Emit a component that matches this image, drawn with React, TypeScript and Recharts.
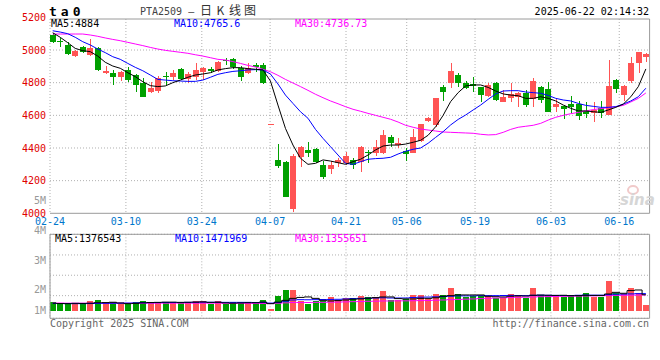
import { ComposedChart, Bar, Line, XAxis, YAxis, CartesianGrid, ReferenceLine } from 'recharts';

// daily candles, 02-24 .. 06-19 (80 sessions)
const opens = [5092, 5055, 5031, 4965, 5016, 4969, 5010, 4857, 4861, 4837,
  4878, 4847, 4796, 4741, 4749, 4843, 4837, 4884, 4820, 4837,
  4867, 4886, 4873, 4941, 4943, 4888, 4857, 4910, 4908, 4545,
  4327, 4314, 4027, 4347, 4388, 4392, 4296, 4269, 4306, 4310,
  4327, 4316, 4378, 4371, 4367, 4465, 4418, 4382, 4371, 4445,
  4567, 4541, 4776, 4796, 4847, 4800, 4790, 4771, 4718, 4796,
  4684, 4704, 4714, 4735, 4698, 4771, 4759, 4649, 4657, 4669,
  4669, 4627, 4612, 4647, 4602, 4816, 4724, 4812, 4918, 4955];
const highs = [5106, 5072, 5051, 5000, 5025, 5065, 5016, 4902, 4878, 4873,
  4898, 4853, 4827, 4806, 4841, 4863, 4878, 4888, 4867, 4918,
  4894, 4898, 4935, 4949, 4949, 4902, 4918, 4922, 4918, 4545,
  4422, 4318, 4363, 4412, 4439, 4402, 4322, 4322, 4337, 4373,
  4337, 4412, 4388, 4449, 4510, 4480, 4459, 4398, 4518, 4547,
  4590, 4708, 4786, 4922, 4857, 4812, 4837, 4776, 4796, 4802,
  4755, 4796, 4745, 4755, 4831, 4782, 4806, 4698, 4663, 4718,
  4690, 4684, 4684, 4688, 4939, 4822, 4786, 4959, 4986, 4980];
const lows = [5041, 5020, 4969, 4955, 4984, 4963, 4873, 4851, 4786, 4812,
  4806, 4745, 4710, 4735, 4739, 4786, 4816, 4816, 4800, 4816,
  4816, 4857, 4867, 4908, 4882, 4812, 4851, 4867, 4792, 4545,
  4276, 4098, 4010, 4282, 4347, 4306, 4212, 4239, 4286, 4296,
  4269, 4255, 4306, 4351, 4361, 4408, 4398, 4322, 4371, 4437,
  4560, 4531, 4690, 4765, 4771, 4763, 4745, 4684, 4714, 4688,
  4684, 4684, 4653, 4649, 4649, 4673, 4622, 4622, 4575, 4616,
  4571, 4582, 4561, 4586, 4602, 4735, 4688, 4796, 4857, 4925];
const closes = [5051, 5048, 4976, 4996, 4990, 5010, 4878, 4873, 4837, 4867,
  4816, 4786, 4714, 4769, 4831, 4833, 4861, 4820, 4853, 4878,
  4888, 4873, 4929, 4931, 4898, 4837, 4892, 4898, 4796, 4545,
  4290, 4102, 4351, 4404, 4367, 4316, 4220, 4296, 4327, 4351,
  4296, 4408, 4367, 4404, 4478, 4433, 4429, 4361, 4465, 4547,
  4586, 4704, 4741, 4871, 4796, 4769, 4782, 4725, 4786, 4694,
  4714, 4731, 4739, 4663, 4812, 4694, 4622, 4669, 4637, 4649,
  4596, 4606, 4633, 4616, 4780, 4761, 4780, 4918, 4986, 4973];

const ma5 = [5106, 5078, 5045, 5010, 4996, 4990, 4963, 4925, 4902, 4888,
  4861, 4837, 4806, 4782, 4776, 4780, 4800, 4816, 4833, 4847,
  4853, 4861, 4878, 4886, 4892, 4892, 4886, 4882, 4878, 4810,
  4663, 4520, 4418, 4337, 4300, 4306, 4327, 4320, 4310, 4300,
  4316, 4331, 4357, 4388, 4412, 4418, 4418, 4424, 4435, 4447,
  4478, 4530, 4600, 4684, 4739, 4780, 4786, 4786, 4771, 4749,
  4731, 4724, 4720, 4704, 4704, 4714, 4704, 4688, 4663, 4643,
  4627, 4627, 4622, 4618, 4633, 4649, 4669, 4714, 4776, 4884];
const ma10 = [5118, 5110, 5100, 5078, 5051, 5031, 5006, 4984, 4959, 4943,
  4918, 4894, 4873, 4847, 4820, 4816, 4812, 4810, 4808, 4808,
  4816, 4833, 4851, 4861, 4869, 4873, 4878, 4880, 4878, 4853,
  4792, 4724, 4673, 4622, 4582, 4514, 4459, 4408, 4357, 4306,
  4300, 4316, 4331, 4335, 4337, 4343, 4363, 4380, 4392, 4400,
  4429, 4465, 4500, 4541, 4575, 4602, 4633, 4663, 4698, 4731,
  4749, 4751, 4751, 4743, 4739, 4735, 4722, 4704, 4694, 4688,
  4673, 4661, 4655, 4649, 4649, 4653, 4669, 4688, 4714, 4766];
const ma30 = [5098, 5098, 5098, 5098, 5098, 5092, 5084, 5074, 5065, 5057,
  5047, 5037, 5027, 5016, 5006, 4998, 4992, 4986, 4980, 4971,
  4963, 4953, 4943, 4939, 4929, 4918, 4906, 4896, 4882, 4867,
  4845, 4820, 4798, 4776, 4753, 4729, 4708, 4688, 4671, 4653,
  4637, 4625, 4612, 4600, 4588, 4576, 4559, 4539, 4527, 4516,
  4510, 4504, 4498, 4496, 4494, 4492, 4490, 4484, 4480, 4482,
  4496, 4514, 4527, 4533, 4539, 4551, 4571, 4588, 4600, 4610,
  4618, 4627, 4635, 4641, 4647, 4653, 4661, 4682, 4704, 4737];

const volumes = [730000, 590000, 650000, 590000, 590000, 850000, 930000, 650000, 730000, 560000,
  590000, 730000, 850000, 730000, 730000, 730000, 730000, 730000, 730000, 850000,
  850000, 590000, 850000, 590000, 730000, 730000, 730000, 730000, 930000, 170000,
  1270000, 1780000, 1780000, 850000, 590000, 850000, 850000, 1190000, 930000, 1130000,
  1070000, 1270000, 1190000, 1190000, 1700000, 930000, 930000, 1020000, 1360000, 1360000,
  1020000, 1440000, 1360000, 1980000, 1440000, 1210000, 1270000, 1270000, 1270000, 1130000,
  1130000, 1440000, 1360000, 1070000, 1950000, 1360000, 1270000, 1210000, 1210000, 1360000,
  1360000, 1530000, 1210000, 1210000, 2540000, 1500000, 1410000, 1950000, 1550000, 510000];
const volMa5 = [660000, 630000, 620000, 650000, 640000, 660000, 700000, 710000, 740000, 680000,
  620000, 640000, 690000, 720000, 730000, 750000, 750000, 730000, 740000, 750000,
  770000, 730000, 740000, 690000, 660000, 680000, 700000, 700000, 750000, 620000,
  750000, 900000, 1070000, 1150000, 1190000, 1070000, 900000, 850000, 880000, 930000,
  1000000, 1020000, 1080000, 1130000, 1190000, 1190000, 1050000, 1020000, 1020000, 1070000,
  1070000, 1120000, 1250000, 1300000, 1360000, 1360000, 1360000, 1360000, 1250000, 1210000,
  1190000, 1250000, 1280000, 1270000, 1330000, 1350000, 1330000, 1320000, 1330000, 1300000,
  1300000, 1330000, 1320000, 1320000, 1440000, 1580000, 1500000, 1730000, 1780000, 1377000];
const volMa10 = [640000, 630000, 630000, 620000, 620000, 630000, 640000, 650000, 660000, 660000,
  670000, 680000, 700000, 700000, 710000, 720000, 720000, 720000, 730000, 740000,
  750000, 740000, 740000, 730000, 730000, 730000, 730000, 720000, 730000, 670000,
  720000, 830000, 930000, 960000, 950000, 960000, 970000, 980000, 990000, 1020000,
  1050000, 1070000, 1080000, 1100000, 1120000, 1100000, 1100000, 1100000, 1140000, 1170000,
  1180000, 1200000, 1220000, 1250000, 1280000, 1280000, 1280000, 1300000, 1300000, 1300000,
  1310000, 1320000, 1310000, 1300000, 1330000, 1340000, 1330000, 1320000, 1310000, 1310000,
  1330000, 1350000, 1340000, 1340000, 1380000, 1420000, 1430000, 1450000, 1470000, 1472000];
const volMa30 = [670000, 670000, 660000, 660000, 660000, 660000, 660000, 660000, 660000, 660000,
  650000, 650000, 650000, 660000, 660000, 660000, 660000, 660000, 660000, 660000,
  660000, 660000, 660000, 650000, 650000, 650000, 640000, 640000, 640000, 630000,
  660000, 690000, 720000, 720000, 720000, 730000, 730000, 740000, 750000, 770000,
  790000, 800000, 820000, 830000, 850000, 850000, 860000, 860000, 870000, 880000,
  890000, 910000, 930000, 960000, 980000, 1000000, 1020000, 1050000, 1080000, 1100000,
  1120000, 1140000, 1160000, 1170000, 1190000, 1210000, 1220000, 1230000, 1240000, 1250000,
  1260000, 1270000, 1280000, 1290000, 1310000, 1320000, 1330000, 1340000, 1350000, 1356000];

const dateTicks = [0, 10, 20, 29, 39, 47, 56, 66, 75];
const dateLabels = ['02-24', '03-10', '03-24', '04-07', '04-21', '05-06', '05-19', '06-03', '06-16'];
const priceTicks = [4000, 4200, 4400, 4600, 4800, 5000, 5200];
const priceGrid = [4200, 4400, 4600, 4800, 5000];
const volTicks = [-620000, 1300000, 3030000, 4750000, 6500000];
const volLabels = ['1M', '2M', '3M', '4M'];
const volLabelShift = [-8, -6, -15, -24];

const RED = '#ff5454';
const GREEN = '#00a000';
const BORDER = '#9a9a9a';
const GRID = '#b0b0b0';
const MONO = '"DejaVu Sans Mono", monospace';

const rows = opens.map((o, i) => ({
  i,
  o,
  h: highs[i],
  l: lows[i],
  c: closes[i],
  ma5: ma5[i],
  ma10: ma10[i],
  ma30: ma30[i],
  vol: volumes[i],
  vma5: volMa5[i],
  vma10: volMa10[i],
  vma30: volMa30[i],
}));

function Candle(props: any) {
  const { x, y, width, height } = props;
  const d = props.payload ?? props;
  if (x == null || y == null) return null;
  const color = d.c >= d.o ? RED : GREEN;
  const top = Math.min(y, y + height);
  const bot = Math.max(y, y + height);
  const left = Math.round(x);
  const w = Math.round(width);
  const cx = left + Math.floor(w / 2) + 0.5;
  const span = d.h - d.l;
  if (span <= 0) {
    return <rect x={left} y={Math.round(top)} width={w} height={1} fill={color} />;
  }
  const py = (v: number) => top + ((d.h - v) / span) * (bot - top);
  const bt = Math.round(py(Math.max(d.o, d.c)));
  const bb = Math.round(py(Math.min(d.o, d.c)));
  return (
    <g>
      <line x1={cx} x2={cx} y1={Math.round(top)} y2={Math.round(bot)} stroke={color} strokeWidth={1} />
      <rect x={left} y={bt} width={w} height={Math.max(bb - bt, 1)} fill={color} />
    </g>
  );
}

function VolBar(props: any) {
  const { x, y, width, height } = props;
  const d = props.payload ?? props;
  if (x == null || y == null) return null;
  const color = d.c >= d.o ? RED : GREEN;
  const top = Math.round(Math.min(y, y + height));
  const bot = Math.round(Math.max(y, y + height));
  return <rect x={Math.round(x)} y={top} width={Math.round(width)} height={Math.max(bot - top, 1)} fill={color} />;
}

function VolTick(props: any) {
  const { x, y, payload } = props;
  const k = volTicks.indexOf(payload.value);
  if (k < 0 || k >= volLabels.length) return null;
  return (
    <text x={x} y={y + volLabelShift[k]} textAnchor="end" dominantBaseline="central" fill="#999" fontSize={10} fontFamily={MONO}>
      {volLabels[k]}
    </text>
  );
}

export default function App() {
  return (
    <div style={{ position: 'absolute', left: 0, top: 0, width: 660, height: 360, background: '#fff', overflow: 'hidden' }}>
      <div style={{ position: 'absolute', left: 0, top: 0 }}>
        <ComposedChart width={660} height={235} data={rows} margin={{ top: 19, right: 10.4, bottom: 0, left: 0 }}>
          <CartesianGrid xAxisId="d" yAxisId="p" verticalValues={dateTicks} horizontalValues={priceGrid} stroke={GRID} strokeDasharray="1 2" />
          <XAxis
            xAxisId="d"
            type="number"
            domain={[0, 79]}
            allowDataOverflow
            ticks={dateTicks}
            interval={0}
            tickFormatter={(v: number) => dateLabels[dateTicks.indexOf(v)] ?? ''}
            axisLine={false}
            tickLine={false}
            tickSize={0}
            tickMargin={5}
            height={21.7}
            tick={{ fill: '#0077cc', fontSize: 10, fontFamily: MONO }}
          />
          <XAxis xAxisId="c" type="number" dataKey="i" domain={[-0.36, 79.5]} allowDataOverflow hide height={0} />
          <YAxis
            yAxisId="p"
            type="number"
            domain={[4000, 5190]}
            allowDataOverflow
            ticks={priceTicks}
            interval={0}
            width={50}
            axisLine={false}
            tickLine={false}
            tickSize={0}
            tickMargin={4}
            tick={{ fill: '#e00000', fontSize: 10, fontFamily: MONO }}
          />
          <ReferenceLine xAxisId="d" yAxisId="p" y={5190} stroke={BORDER} />
          <ReferenceLine xAxisId="d" yAxisId="p" y={4000} stroke={BORDER} />
          <ReferenceLine xAxisId="d" yAxisId="p" x={79} stroke={BORDER} />
          <Line xAxisId="c" yAxisId="p" dataKey="ma30" stroke="#ff00ff" strokeWidth={1} dot={false} type="linear" isAnimationActive={false} />
          <Line xAxisId="c" yAxisId="p" dataKey="ma10" stroke="#0000ff" strokeWidth={1} dot={false} type="linear" isAnimationActive={false} />
          <Line xAxisId="c" yAxisId="p" dataKey="ma5" stroke="#000000" strokeWidth={1} dot={false} type="linear" isAnimationActive={false} />
          <Bar xAxisId="c" yAxisId="p" dataKey={(d: any) => [d.l, d.h]} barSize={6} shape={Candle} isAnimationActive={false} />
        </ComposedChart>
      </div>

      <div style={{ position: 'absolute', left: 0, top: 190 }}>
        <ComposedChart width={660} height={145} data={rows} margin={{ top: 44.3, right: 10.4, bottom: 16.7, left: 0 }}>
          <CartesianGrid xAxisId="d" yAxisId="v" verticalValues={dateTicks} horizontalValues={volTicks} stroke={GRID} strokeDasharray="1 2" />
          <XAxis xAxisId="d" type="number" domain={[0, 79]} allowDataOverflow hide height={0} />
          <XAxis xAxisId="c" type="number" dataKey="i" domain={[-0.36, 79.5]} allowDataOverflow hide height={0} />
          <YAxis
            yAxisId="v"
            type="number"
            domain={[-620000, 6500000]}
            allowDataOverflow
            ticks={volTicks}
            interval={0}
            width={50}
            axisLine={false}
            tickLine={false}
            tickSize={0}
            tickMargin={4}
            tick={(p: any) => <VolTick {...p} />}
          />
          <ReferenceLine xAxisId="d" yAxisId="v" y={6500000} stroke={BORDER} />
          <ReferenceLine xAxisId="d" yAxisId="v" y={-620000} stroke={BORDER} />
          <ReferenceLine xAxisId="d" yAxisId="v" x={0} stroke={BORDER} />
          <ReferenceLine xAxisId="d" yAxisId="v" x={79} stroke={BORDER} />
          <Bar xAxisId="c" yAxisId="v" dataKey="vol" barSize={6} shape={VolBar} isAnimationActive={false} />
          <Line xAxisId="c" yAxisId="v" dataKey="vma30" stroke="#ff00ff" strokeWidth={1} dot={false} type="step" isAnimationActive={false} />
          <Line xAxisId="c" yAxisId="v" dataKey="vma10" stroke="#0000ff" strokeWidth={1} dot={false} type="step" isAnimationActive={false} />
          <Line xAxisId="c" yAxisId="v" dataKey="vma5" stroke="#000000" strokeWidth={1} dot={false} type="step" isAnimationActive={false} />
        </ComposedChart>
      </div>

      <svg width={660} height={360} style={{ position: 'absolute', left: 0, top: 0, pointerEvents: 'none' }} fontFamily={MONO} fontSize={10}>
        <text x={49} y={16} fontSize={13} fontWeight="bold" letterSpacing={4}>ta0</text>
        <text x={140} y={14.5} fill="#444">PTA2509 —</text>
        <text x="200 216.5 229 244" y={15} fill="#333" fontSize={12} fontFamily='"Noto Sans CJK SC", sans-serif'>日K线图</text>
        <text x={649} y={15} textAnchor="end">2025-06-22 02:14:32</text>
        <text x={51} y={26.5}>MA5:4884</text>
        <text x={174} y={26.5} fill="#0000ff">MA10:4765.6</text>
        <text x={295} y={26.5} fill="#ff00ff">MA30:4736.73</text>
        <text x={46} y={204} fill="#999" textAnchor="end">5M</text>
        <text x={55} y={242}>MA5:1376543</text>
        <text x={175} y={242} fill="#0000ff">MA10:1471969</text>
        <text x={295} y={242} fill="#ff00ff">MA30:1355651</text>
        <text x={50} y={327} fill="#666">Copyright 2025 SINA.COM</text>
        <text x={649} y={327} fill="#666" textAnchor="end">http://finance.sina.com.cn</text>
        <ellipse cx={633} cy={190} rx={5} ry={4} fill="none" stroke="#f1caca" strokeWidth={2} />
        <text x={620} y={205} fontSize={15} fontStyle="italic" fontWeight="bold" fill="#d6d6d6" fontFamily='"DejaVu Sans", sans-serif'>sina</text>
      </svg>
    </div>
  );
}
